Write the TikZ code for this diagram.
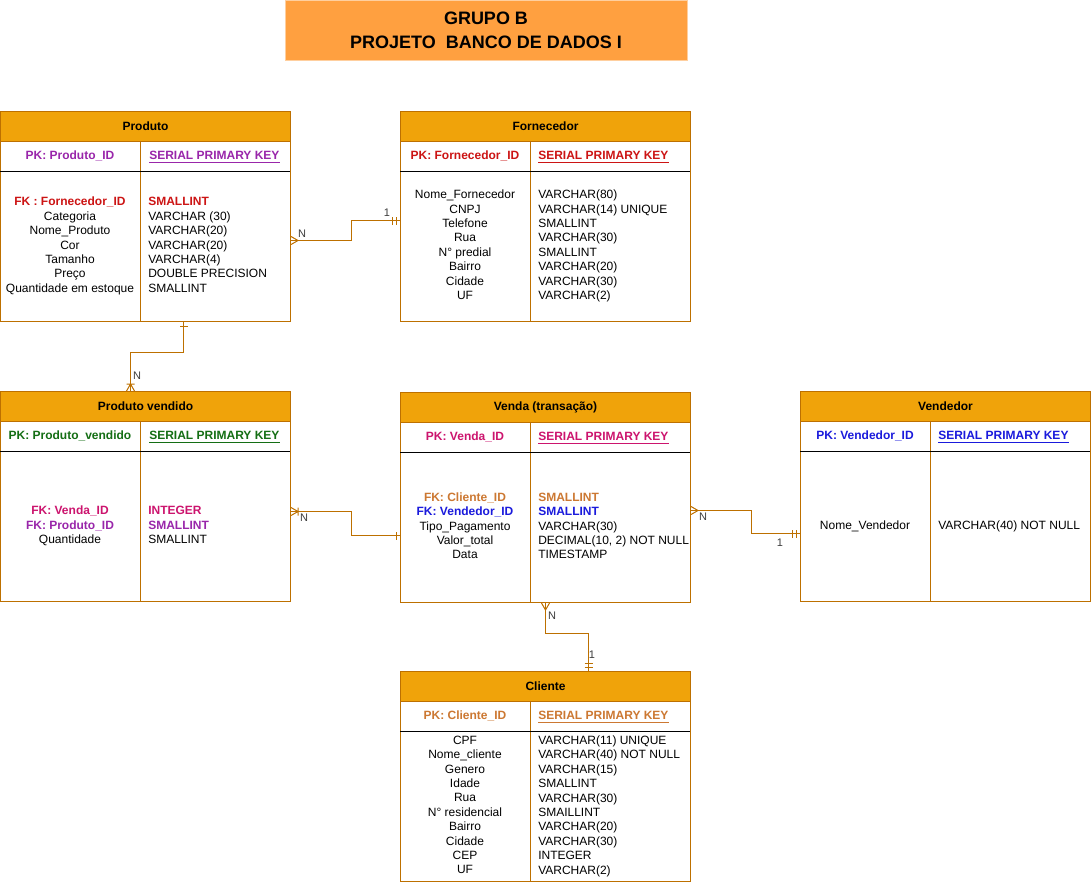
\documentclass[tikz,border=0pt]{standalone}
\usepackage{fontspec}
\setmainfont{Liberation Sans}
\usetikzlibrary{positioning}
\definecolor{hdr}{RGB}{240,163,10}
\definecolor{brd}{RGB}{189,112,0}
\definecolor{tit}{RGB}{255,160,64}
\definecolor{lilac}{RGB}{153,38,170}
\definecolor{crimson}{RGB}{204,20,20}
\definecolor{forest}{RGB}{20,110,20}
\definecolor{rose}{RGB}{204,20,110}
\definecolor{copper}{RGB}{204,120,50}
\definecolor{royal}{RGB}{26,26,220}
\definecolor{cardgray}{RGB}{60,60,60}
\tikzset{
  tab/.style={draw=brd,fill=white,line width=0.75pt,minimum width=217.5pt,
    minimum height=157.5pt,inner sep=0pt,anchor=north west},
  head/.style={draw=brd,fill=hdr,line width=0.75pt,minimum width=217.5pt,
    minimum height=22.5pt,inner sep=0pt,anchor=north west,
    font=\fontsize{9}{10.8}\selectfont\bfseries},
  cell/.style={inner sep=0pt,font=\fontsize{9}{10.8}\selectfont,
    execute at begin node=\strut,execute at end node=\strut},
  lcol/.style={cell,align=center},
  rcol/.style={cell,align=left,anchor=west},
  pk/.style={cell,text=#1,font=\fontsize{9}{10.8}\selectfont\bfseries},
  pkr/.style={pk=#1,anchor=west},
  rel/.style={draw=brd,line width=0.75pt},
  card/.style={font=\fontsize{8.25}{9}\selectfont,text=cardgray,inner sep=0pt},
  title/.style={fill=tit,draw=tit!50,minimum width=301.5pt,minimum height=45pt,
    align=center,font=\fontsize{13.5}{18}\selectfont\bfseries},
  % crow's foot marks
  pics/many/.style={code={\draw[rel] (0,-4) -- (7,0) -- (0,4);}},
  pics/onemany/.style={code={\draw[rel] (0,-4) -- (7,0) -- (0,4) (7,-4) -- (7,4);}},
  pics/one/.style={code={\draw[rel] (4,-4) -- (4,4);}},
  pics/mone/.style={code={\draw[rel] (4,-4) -- (4,4) (8,-4) -- (8,4);}},
}
\begin{document}
\begin{tikzpicture}[x=0.75pt,y=-0.75pt]
  \useasboundingbox (0,0) rectangle (1091,882);
  \node[title] (ttl) at (486,30) {GRUPO B\\PROJETO\ \ BANCO DE DADOS I};
  \foreach \n/\x/\y/\d/\t in {prod/0/111/140/Produto,forn/400/111/130/Fornecedor,pv/0/391/140/Produto vendido,
      venda/400/392/130/Venda (transação),vend/800/391/130/Vendedor,cli/400/671/130/Cliente} {
    \node[tab] (\n) at (\x,\y) {};
    \node[head] (\n h) at (\x,\y) {\t};
    \draw[rel] (\x+\d,\y+30) -- (\x+\d,\y+210);
    \draw[black,line width=0.75pt] (\x,\y+60) -- (\x+290,\y+60);
  }
  % Produto
  \node[pk=lilac] (prodk) at (70,157) {PK: Produto\_ID};
  \node[pkr=lilac] (prodt) at (149,157) {\underline{SERIAL PRIMARY KEY}};
  \node[lcol] (prodl) at (70,247) {{\color{crimson}\bfseries FK : Fornecedor\_ID}\\Categoria\\Nome\_Produto\\Cor\\Tamanho\\Preço\\Quantidade em estoque};
  \node[rcol] (prodr) at (148,247) {{\color{crimson}\bfseries SMALLINT}\\VARCHAR (30)\\VARCHAR(20)\\VARCHAR(20)\\VARCHAR(4)\\DOUBLE PRECISION\\SMALLINT};
  % Fornecedor
  \node[pk=crimson] (fornk) at (465,157) {PK: Fornecedor\_ID};
  \node[pkr=crimson] (fornt) at (538,157) {\underline{SERIAL PRIMARY KEY}};
  \node[lcol] (fornl) at (465,247) {Nome\_Fornecedor\\CNPJ\\Telefone\\Rua\\N° predial\\Bairro\\Cidade\\UF};
  \node[rcol] (fornr) at (538,247) {VARCHAR(80)\\VARCHAR(14) UNIQUE\\SMALLINT\\VARCHAR(30)\\SMALLINT\\VARCHAR(20)\\VARCHAR(30)\\VARCHAR(2)};
  % Produto vendido
  \node[pk=forest] (pvk) at (70,437) {PK: Produto\_vendido};
  \node[pkr=forest] (pvt) at (149,437) {\underline{SERIAL PRIMARY KEY}};
  \node[lcol] (pvl) at (70,527) {{\color{rose}\bfseries FK: Venda\_ID}\\{\color{lilac}\bfseries FK: Produto\_ID}\\Quantidade};
  \node[rcol] (pvr) at (148,527) {{\color{rose}\bfseries INTEGER}\\{\color{lilac}\bfseries SMALLINT}\\SMALLINT};
  % Venda
  \node[pk=rose] (vendak) at (465,438) {PK: Venda\_ID};
  \node[pkr=rose] (vendat) at (538,438) {\underline{SERIAL PRIMARY KEY}};
  \node[lcol] (vendal) at (465,528) {{\color{copper}\bfseries FK: Cliente\_ID}\\{\color{royal}\bfseries FK: Vendedor\_ID}\\Tipo\_Pagamento\\Valor\_total\\Data};
  \node[rcol] (vendar) at (538,528) {{\color{copper}\bfseries SMALLINT}\\{\color{royal}\bfseries SMALLINT}\\VARCHAR(30)\\DECIMAL(10, 2) NOT NULL\\TIMESTAMP};
  % Vendedor
  \node[pk=royal] (vendk) at (865,437) {PK: Vendedor\_ID};
  \node[pkr=royal] (vendt) at (938,437) {\underline{SERIAL PRIMARY KEY}};
  \node[lcol] (vendl) at (865,527) {Nome\_Vendedor};
  \node[rcol] (vendr) at (938,527) {VARCHAR(40) NOT NULL};
  % Cliente
  \node[pk=copper] (clik) at (465,717) {PK: Cliente\_ID};
  \node[pkr=copper] (clit) at (538,717) {\underline{SERIAL PRIMARY KEY}};
  \node[lcol] (clil) at (465,807) {CPF\\Nome\_cliente\\Genero\\Idade\\Rua\\N° residencial\\Bairro\\Cidade\\CEP\\UF};
  \node[rcol] (clir) at (538,807) {VARCHAR(11) UNIQUE\\VARCHAR(40) NOT NULL\\VARCHAR(15)\\SMALLINT\\VARCHAR(30)\\SMAILLINT\\VARCHAR(20)\\VARCHAR(30)\\INTEGER\\VARCHAR(2)};
  % relations
  \draw[rel] ([yshift=-18pt]prod.east) pic{many} -- ++(60,0) |- ([yshift=-3pt]forn.west) pic[rotate=180]{mone};
  \draw[rel] ([xshift=28.5pt]prod.south) pic[rotate=-90]{one} -- ++(0,30) -| ([xshift=-11.25pt]pv.north) pic[rotate=90]{onemany};
  \draw[rel] ([yshift=-11.25pt]pv.east) pic{onemany} -- ++(60,0) |- ([yshift=-28.5pt]venda.west) pic[rotate=180]{one};
  \draw[rel] ([yshift=-9.75pt]venda.east) pic{many} -- ++(60,0) |- ([yshift=-27.75pt]vend.west) pic[rotate=180]{mone};
  \draw[rel] (venda.south) pic[rotate=-90]{many} -- ++(0,30) -| ([xshift=32.25pt]cli.north) pic[rotate=90]{mone};
  \node[card] (c1n) at (302,234) {N};
  \node[card] (c1o) at (387,213) {1};
  \node[card] (c2n) at (137,376) {N};
  \node[card] (c3n) at (304,518) {N};
  \node[card] (c4n) at (703,517) {N};
  \node[card] (c4o) at (780,543) {1};
  \node[card] (c5n) at (552,616) {N};
  \node[card] (c5o) at (592,655) {1};
\end{tikzpicture}
\end{document}
